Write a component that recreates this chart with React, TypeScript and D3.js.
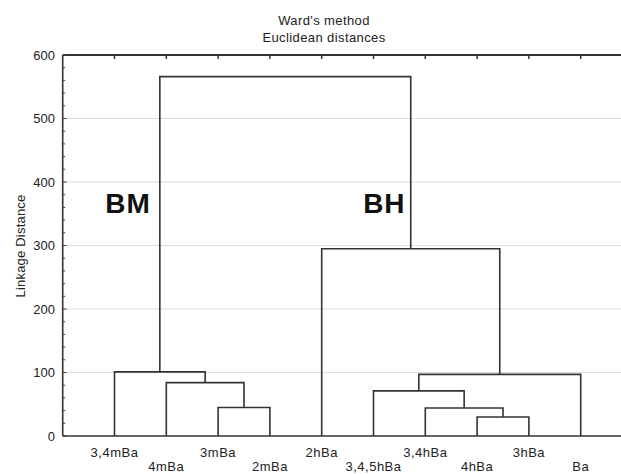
import React from "react";
import * as d3 from "d3";

const leafLabels = ["3,4mBa", "4mBa", "3mBa", "2mBa", "2hBa", "3,4,5hBa", "3,4hBa", "4hBa", "3hBa", "Ba"];
// merges: [childA, childB, height]; leaves are 0..9, merged nodes 10..
const mergeA = [2, 1, 0, 7, 6, 5, 15, 4, 12];
const mergeB = [3, 10, 11, 8, 13, 14, 9, 16, 17];
const mergeHeights = [45, 84, 101, 30, 44, 71, 97, 295, 566];
const yTicks = [0, 100, 200, 300, 400, 500, 600];
const titleLines = ["Ward's method", "Euclidean distances"];
const groupLabels = [
  { text: "BM", x: 0.82, y: 351 },
  { text: "BH", x: 5.8, y: 351 },
];

const W = 621;
const H = 474;

export default function App() {
  const x = d3.scaleLinear().domain([0, 11]).range([62.7, 632.5]);
  const y = d3.scaleLinear().domain([0, 600]).range([436, 55]);

  const nodeX: number[] = leafLabels.map((_, i) => x(i + 1));
  const nodeH: number[] = leafLabels.map(() => 0);
  const paths: string[] = [];
  mergeA.forEach((a, k) => {
    const b = mergeB[k];
    const h = mergeHeights[k];
    const xa = nodeX[a];
    const xb = nodeX[b];
    const p = d3.path();
    p.moveTo(xa, y(nodeH[a]));
    p.lineTo(xa, y(h));
    p.lineTo(xb, y(h));
    p.lineTo(xb, y(nodeH[b]));
    paths.push(p.toString());
    nodeX.push((xa + xb) / 2);
    nodeH.push(h);
  });

  const minor = d3.range(0, 601, 20);
  const font = "'Liberation Sans', Arial, sans-serif";

  return (
    <svg width={W} height={H} style={{ position: "absolute", left: 0, top: 0, background: "#fff" }}>
      <rect width={W} height={H} fill="#fff" />
      {titleLines.map((t, i) => (
        <text key={t} x={324} y={25 + i * 16.5} textAnchor="middle" fontFamily={font} fontSize={13} letterSpacing={0.4} fill="#222">
          {t}
        </text>
      ))}
      {yTicks.slice(1, -1).map((t) => (
        <line key={t} x1={x(0)} x2={W} y1={y(t)} y2={y(t)} stroke="#dcdcdc" strokeWidth={1.2} />
      ))}
      <line x1={x(0)} x2={W} y1={y(600)} y2={y(600)} stroke="#333" strokeWidth={1.8} />
      {leafLabels.map((_, i) => (
        <line key={i} x1={x(i + 1)} x2={x(i + 1)} y1={y(600)} y2={y(600) + 4} stroke="#333" strokeWidth={1.5} />
      ))}
      <line x1={x(0)} x2={x(0)} y1={y(600)} y2={y(0)} stroke="#333" strokeWidth={1.6} />
      {minor.map((t) => (
        <line key={t} x1={x(0)} x2={x(0) + (t % 100 === 0 ? 4 : 2.5)} y1={y(t)} y2={y(t)} stroke="#444" strokeWidth={1} />
      ))}
      {yTicks.map((t) => (
        <text key={t} x={55} y={y(t) + 4.5} textAnchor="end" fontFamily={font} fontSize={13} fill="#222">
          {t}
        </text>
      ))}
      <line x1={x(0)} x2={W} y1={y(0)} y2={y(0)} stroke="#333" strokeWidth={1.6} />
      <text
        transform={`translate(25,246) rotate(-90)`}
        textAnchor="middle"
        fontFamily={font}
        fontSize={13}
        letterSpacing={0.2}
        fill="#222"
      >
        Linkage Distance
      </text>
      {paths.map((d, i) => (
        <path key={i} d={d} fill="none" stroke="#333" strokeWidth={1.6} />
      ))}
      {leafLabels.map((l, i) => (
        <text
          key={l}
          x={x(i + 1)}
          y={i % 2 === 0 ? 457 : 471}
          textAnchor="middle"
          fontFamily={font}
          fontSize={13}
          letterSpacing={0.5}
          fill="#222"
        >
          {l}
        </text>
      ))}
      {groupLabels.map((g) => (
        <text key={g.text} x={x(g.x)} y={y(g.y)} fontFamily={font} fontWeight="bold" fontSize={28} letterSpacing={1} fill="#111">
          {g.text}
        </text>
      ))}
    </svg>
  );
}
